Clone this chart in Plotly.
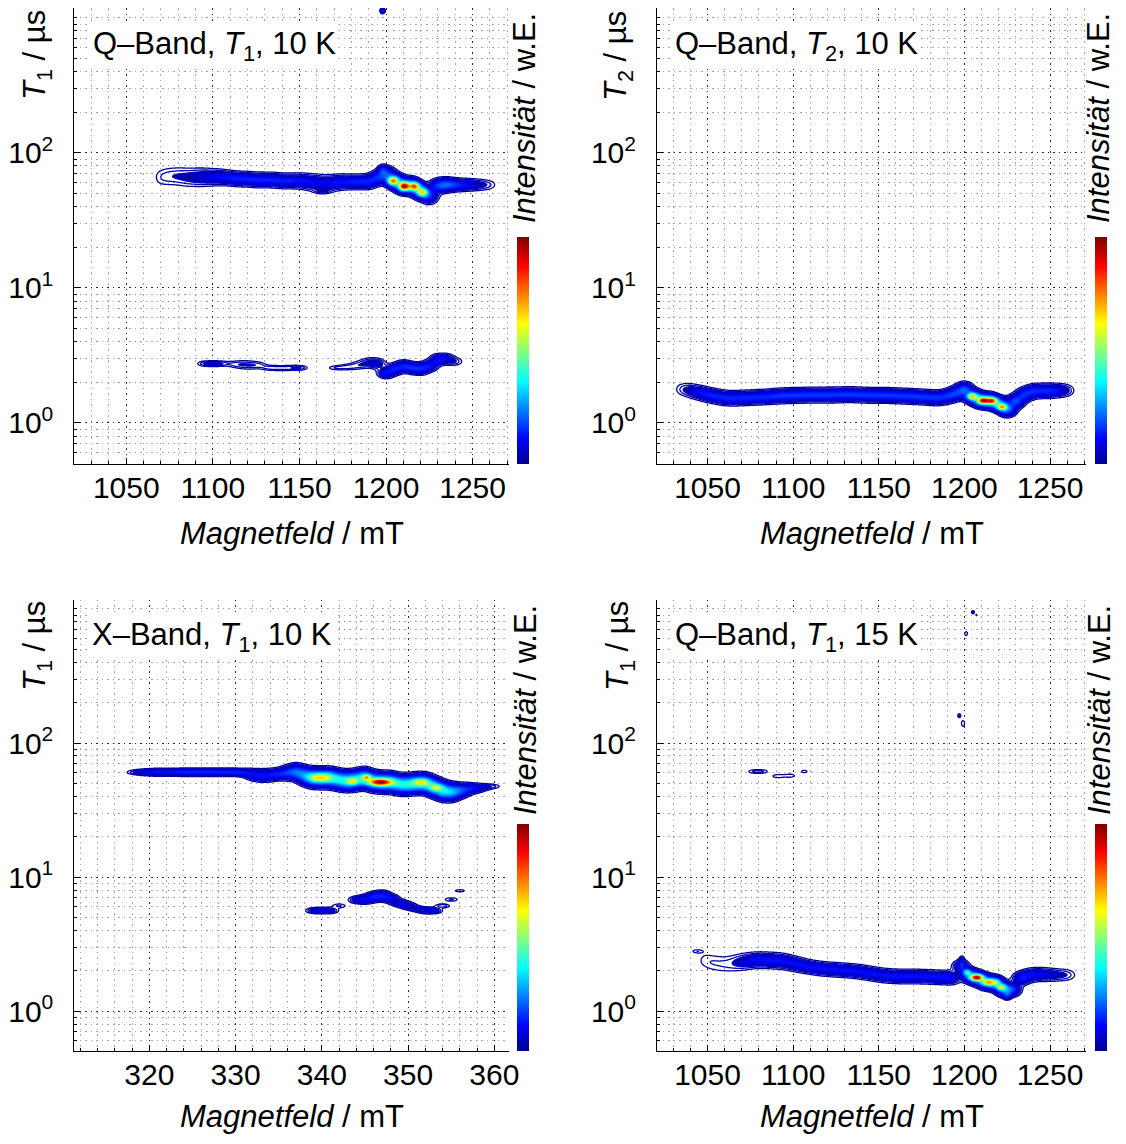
import numpy as np
import plotly.graph_objects as go

# ---------------- data ----------------
# Panel 1: Q-Band, T1, 10 K  -- ridge points (field mT, T us, intensity, width in decades)
p1_band_B = [1070, 1075, 1080, 1085, 1090, 1095, 1100, 1105, 1110, 1115, 1120, 1125, 1130, 1135, 1140,
             1145, 1150, 1155, 1160, 1165, 1170, 1175, 1180, 1185, 1190, 1195, 1200, 1205, 1210, 1215,
             1220, 1225, 1230, 1235, 1240, 1245, 1250, 1255, 1260,
             1095, 1100, 1105, 1112, 1117, 1122, 1127, 1132, 1137, 1142, 1147, 1151,
             1170, 1175, 1180, 1185, 1190, 1195, 1200, 1205, 1210, 1215, 1220, 1225, 1230, 1235, 1240]
p1_band_T = [66, 67, 67, 66, 66, 66, 66, 66, 65, 64, 64, 63, 63, 63, 62,
             62, 62, 61, 60, 59, 60, 61, 61, 61, 61, 65, 70, 62, 57, 57,
             52, 48, 57, 58, 58, 58, 58, 58, 58,
             2.75, 2.75, 2.75, 2.72, 2.70, 2.68, 2.68, 2.56, 2.55, 2.55, 2.56, 2.56,
             2.56, 2.58, 2.62, 2.70, 2.80, 2.75, 2.35, 2.50, 2.65, 2.55, 2.50, 2.65, 2.95, 2.98, 2.85]
p1_band_I = [0.03, 0.035, 0.04, 0.045, 0.055, 0.065, 0.075, 0.085, 0.10, 0.10, 0.10, 0.10, 0.10, 0.10, 0.10,
             0.10, 0.09, 0.085, 0.08, 0.08, 0.085, 0.09, 0.10, 0.10, 0.11, 0.13, 0.18, 0.25, 0.25, 0.25,
             0.22, 0.15, 0.15, 0.18, 0.12, 0.09, 0.07, 0.05, 0.03,
             0.045, 0.05, 0.045, 0.035, 0.04, 0.04, 0.035, 0.035, 0.035, 0.035, 0.035, 0.04,
             0.03, 0.035, 0.035, 0.04, 0.05, 0.08, 0.12, 0.12, 0.12, 0.12, 0.12, 0.12, 0.11, 0.08, 0.045]
p1_band_W = [0.045, 0.045, 0.045, 0.045, 0.042, 0.04, 0.036, 0.033, 0.03, 0.03, 0.03, 0.03, 0.03, 0.03, 0.03,
             0.03, 0.032, 0.034, 0.036, 0.036, 0.034, 0.032, 0.03, 0.03, 0.03, 0.03, 0.032, 0.033, 0.033, 0.033,
             0.033, 0.033, 0.03, 0.028, 0.026, 0.026, 0.026, 0.026, 0.026,
             0.014, 0.014, 0.014, 0.018, 0.022, 0.022, 0.018, 0.014, 0.014, 0.014, 0.014, 0.012,
             0.012, 0.014, 0.018, 0.022, 0.024, 0.024, 0.024, 0.024, 0.024, 0.024, 0.024, 0.024, 0.024, 0.024, 0.02]
p1_spot_B = [1204, 1210.5, 1216.5, 1221, 1198, 1198, 1163]
p1_spot_T = [62, 56.5, 56.5, 51, 75, 1130, 52]
p1_spot_I = [0.6, 0.75, 0.6, 0.5, 0.1, 0.15, 0.04]
p1_spot_W = [0.02, 0.02, 0.02, 0.02, 0.02, 0.012, 0.012]
p1_spot_S = [2.0, 2.0, 2.0, 2.0, 1.5, 0.8, 3.0]

# Panel 2: Q-Band, T2, 10 K
p2_band_B = [1035, 1040, 1045, 1050, 1055, 1060, 1065, 1070, 1075, 1080, 1085, 1090, 1095, 1100, 1105,
             1110, 1115, 1120, 1125, 1130, 1135, 1140, 1145, 1150, 1155, 1160, 1165, 1170, 1175, 1180,
             1185, 1190, 1195, 1200, 1205, 1210, 1215, 1220, 1225, 1230, 1235, 1240, 1245, 1250, 1255, 1260]
p2_band_T = [1.78, 1.74, 1.68, 1.62, 1.57, 1.53, 1.52, 1.53, 1.54, 1.55, 1.56, 1.58, 1.59, 1.60, 1.60,
             1.61, 1.61, 1.61, 1.61, 1.62, 1.62, 1.61, 1.60, 1.60, 1.60, 1.59, 1.58, 1.57, 1.56, 1.54,
             1.53, 1.57, 1.65, 1.78, 1.57, 1.47, 1.46, 1.38, 1.26, 1.45, 1.62, 1.72, 1.73, 1.73, 1.74, 1.74]
p2_band_I = [0.035, 0.06, 0.09, 0.11, 0.11, 0.11, 0.11, 0.11, 0.11, 0.11, 0.11, 0.12, 0.12, 0.12, 0.12,
             0.12, 0.12, 0.12, 0.12, 0.12, 0.12, 0.12, 0.12, 0.12, 0.12, 0.12, 0.12, 0.12, 0.12, 0.12,
             0.12, 0.13, 0.16, 0.20, 0.30, 0.35, 0.35, 0.30, 0.25, 0.20, 0.15, 0.12, 0.11, 0.11, 0.09, 0.05]
p2_band_W = [0.032, 0.032, 0.03] + [0.029] * 43
p2_spot_B = [1204.5, 1211, 1216, 1222]
p2_spot_T = [1.57, 1.46, 1.46, 1.31]
p2_spot_I = [0.45, 0.6, 0.55, 0.55]
p2_spot_W = [0.015, 0.015, 0.015, 0.015]
p2_spot_S = [1.8, 2.0, 2.0, 1.8]

# Panel 3: X-Band, T1, 10 K
p3_band_B = [318, 319, 320, 321, 322, 323, 324, 325, 326, 327, 328, 329, 330, 331, 332, 333, 334, 335,
             336, 337, 338, 339, 340, 341, 342, 343, 344, 345, 346, 347, 348, 349, 350, 351, 352, 353,
             354, 355, 356, 357, 358, 359, 360,
             339, 340, 341, 342, 344, 345, 346, 347, 348, 349, 350, 351, 352, 353, 354, 355, 356]
p3_band_T = [60.5, 60.5, 60.5, 60.5, 60.5, 60.5, 60.5, 60.5, 60.5, 60.5, 60.5, 60.5, 60.5, 60.0, 58.0,
             57.0, 57.5, 58.5, 60.0, 61.0, 57.0, 55.0, 55.0, 55.0, 53.0, 52.0, 53.0, 55.0, 51.5, 51.0,
             51.0, 49.0, 49.0, 50.0, 50.0, 47.0, 44.0, 43.0, 44.0, 45.5, 46.0, 47.0, 47.5,
             5.62, 5.62, 5.62, 6.1, 6.76, 6.8, 7.1, 7.3, 6.9, 6.4, 6.1, 5.8, 5.62, 5.62, 6.1, 6.8, 7.9]
p3_band_I = [0.03, 0.06, 0.08, 0.09, 0.09, 0.09, 0.10, 0.10, 0.10, 0.10, 0.10, 0.10, 0.10, 0.10, 0.09,
             0.09, 0.09, 0.10, 0.12, 0.17, 0.22, 0.27, 0.29, 0.29, 0.27, 0.29, 0.29, 0.30, 0.30, 0.30,
             0.30, 0.27, 0.28, 0.29, 0.29, 0.29, 0.27, 0.24, 0.16, 0.10, 0.08, 0.05, 0.03,
             0.06, 0.07, 0.07, 0.04, 0.07, 0.09, 0.11, 0.11, 0.10, 0.09, 0.08, 0.06, 0.08, 0.08, 0.05, 0.04, 0.03]
p3_band_W = [0.012, 0.014, 0.015, 0.016, 0.016, 0.016, 0.016, 0.016, 0.016, 0.016, 0.016, 0.016, 0.016, 0.017,
             0.025, 0.027, 0.027, 0.025, 0.03, 0.033, 0.036, 0.037, 0.037, 0.037, 0.037, 0.037, 0.037, 0.037,
             0.037, 0.037, 0.037, 0.037, 0.037, 0.037, 0.037, 0.037, 0.037, 0.035, 0.03, 0.025, 0.02, 0.016, 0.012,
             0.014, 0.014, 0.014, 0.012, 0.017, 0.02, 0.022, 0.022, 0.02, 0.017, 0.017, 0.014, 0.014, 0.014,
             0.011, 0.011, 0.009]
p3_spot_B = [346.8, 345.2, 343.5, 340.3, 351.5, 353.3, 339.3]
p3_spot_T = [51, 55.5, 51.5, 55, 51, 46.5, 55]
p3_spot_I = [0.6, 0.38, 0.28, 0.22, 0.28, 0.25, 0.2]
p3_spot_W = [0.016, 0.012, 0.015, 0.02, 0.016, 0.016, 0.02]
p3_spot_S = [0.9, 0.3, 0.4, 0.6, 0.6, 0.5, 0.5]

# Panel 4: Q-Band, T1, 15 K
p4_band_B = [1048, 1053, 1058, 1063, 1068, 1073, 1078, 1083, 1088, 1093, 1098, 1103, 1108, 1113, 1118,
             1123, 1128, 1133, 1138, 1143, 1148, 1153, 1158, 1163, 1168, 1173, 1178, 1183, 1188, 1193,
             1198, 1203, 1208, 1213, 1218, 1223, 1228, 1233, 1238, 1243, 1248, 1253, 1258, 1262]
p4_band_T = [2.39, 2.30, 2.25, 2.25, 2.30, 2.35, 2.40, 2.40, 2.38, 2.36, 2.30, 2.22, 2.15, 2.10, 2.06,
             2.04, 2.02, 2.00, 1.97, 1.93, 1.88, 1.84, 1.82, 1.81, 1.81, 1.81, 1.80, 1.79, 1.78, 1.77,
             2.15, 1.85, 1.75, 1.64, 1.62, 1.45, 1.45, 1.75, 1.85, 1.88, 1.87, 1.86, 1.86, 1.86]
p4_band_I = [0.03, 0.035, 0.035, 0.04, 0.06, 0.09, 0.11, 0.11, 0.11, 0.11, 0.11, 0.11, 0.11, 0.11, 0.11,
             0.11, 0.11, 0.11, 0.11, 0.11, 0.11, 0.11, 0.11, 0.11, 0.11, 0.11, 0.11, 0.11, 0.11, 0.12,
             0.15, 0.30, 0.35, 0.35, 0.35, 0.30, 0.20, 0.16, 0.12, 0.10, 0.09, 0.07, 0.05, 0.03]
p4_band_W = [0.045, 0.045, 0.045, 0.043, 0.04, 0.036, 0.033, 0.033, 0.033, 0.033, 0.032, 0.031] + [0.029] * 32
p4_spot_B = [1201.5, 1206, 1208.5, 1213.5, 1218, 1221.5, 1198.5, 1225,
             1044, 1077, 1082, 1091, 1098, 1106.5, 1197, 1199.2, 1201, 1205, 1207]
p4_spot_T = [1.95, 1.78, 1.78, 1.64, 1.64, 1.51, 2.3, 1.32,
             2.79, 61.3, 61.3, 56.6, 57, 61.3, 160, 140, 655, 946, 900]
p4_spot_I = [0.35, 0.6, 0.55, 0.5, 0.35, 0.5, 0.1, 0.15,
             0.045, 0.045, 0.045, 0.045, 0.045, 0.04, 0.06, 0.05, 0.045, 0.06, 0.035]
p4_spot_W = [0.015, 0.015, 0.015, 0.015, 0.015, 0.015, 0.03, 0.02,
             0.01, 0.011, 0.011, 0.011, 0.011, 0.01, 0.012, 0.02, 0.014, 0.01, 0.008]
p4_spot_S = [1.5, 2.0, 2.0, 2.0, 2.0, 1.8, 1.0, 1.5,
             2.5, 2.8, 2.8, 2.8, 2.8, 1.8, 0.7, 0.8, 0.8, 0.7, 0.5]

titles = ["Q–Band, <i>T</i><sub>1</sub>, 10 K", "Q–Band, <i>T</i><sub>2</sub>, 10 K",
          "X–Band, <i>T</i><sub>1</sub>, 10 K", "Q–Band, <i>T</i><sub>1</sub>, 15 K"]
ytitles = ["<i>T</i><sub>1</sub> / µs", "<i>T</i><sub>2</sub> / µs",
           "<i>T</i><sub>1</sub> / µs", "<i>T</i><sub>1</sub> / µs"]
xtitle = "<i>Magnetfeld</i> / mT"
ctitle = "<i>Intensität</i> / w.E."
ytick_vals = [1, 10, 100]
ytick_text = ["10<sup>0</sup>", "10<sup>1</sup>", "10<sup>2</sup>"]
q_xticks = [1050, 1100, 1150, 1200, 1250]
x_xticks = [320, 330, 340, 350, 360]

# ---------------- figure ----------------
OFF = 8                      # page body margin of the browser
W, H = 1126 - 2 * OFF, 1144 - 2 * OFF


def fx(px):
    return min(max((px - OFF) / W, 0.0), 1.0)


def fy(py):
    return min(max(1 - (py - OFF) / H, 0.0), 1.0)


jet = [[0.0, "rgb(0,0,143)"], [0.111, "rgb(0,0,255)"], [0.365, "rgb(0,255,255)"],
       [0.619, "rgb(255,255,0)"], [0.873, "rgb(255,0,0)"], [1.0, "rgb(128,0,0)"]]
FILL_START, FILL_SIZE = 0.05, 0.02
_lo, _hi = FILL_START - FILL_SIZE / 2, 1.0 + FILL_SIZE / 2


def _f(v):
    return (v - _lo) / (_hi - _lo)


jet_fill = [[0.0, "rgba(255,255,255,0)"], [0.004, "rgba(255,255,255,0)"], [0.005, "rgb(0,0,143)"]] + \
           [[max(_f(s), 0.006), c] for s, c in jet[1:-1]] + [[1.0, "rgb(128,0,0)"]]
edge = [[0, "rgb(0,0,150)"], [1, "rgb(0,0,200)"]]

FONT = "Liberation Sans, Arial, sans-serif"
FS = 30
FT = 31

LOGY = np.arange(-0.32, 3.10, 0.005)


def build(x0, x1, dx, sband, band, spots):
    xs = np.arange(x0, x1 + dx / 2, dx)
    z = np.zeros((len(LOGY), len(xs)))
    bB, bT, bI, bW = band
    for B, T, I, Wd in zip(bB, bT, bI, bW):
        z += I * np.outer(np.exp(-0.5 * ((LOGY - np.log10(T)) / Wd) ** 2),
                          np.exp(-0.5 * ((xs - B) / sband) ** 2))
    sB, sT, sI, sW, sS = spots
    for B, T, I, Wd, S in zip(sB, sT, sI, sW, sS):
        z += I * np.outer(np.exp(-0.5 * ((LOGY - np.log10(T)) / Wd) ** 2),
                          np.exp(-0.5 * ((xs - B) / S) ** 2))
    z /= z.max()
    return xs, 10 ** LOGY, z.astype(np.float32)


panels = [
    dict(xr=[1020, 1271], dx=0.5, s=3.0, band=(p1_band_B, p1_band_T, p1_band_I, p1_band_W),
         spots=(p1_spot_B, p1_spot_T, p1_spot_I, p1_spot_W, p1_spot_S), ticks=q_xticks, minor=10),
    dict(xr=[1020.5, 1271], dx=0.5, s=3.0, band=(p2_band_B, p2_band_T, p2_band_I, p2_band_W),
         spots=(p2_spot_B, p2_spot_T, p2_spot_I, p2_spot_W, p2_spot_S), ticks=q_xticks, minor=10),
    dict(xr=[311.3, 361.7], dx=0.1, s=0.6, band=(p3_band_B, p3_band_T, p3_band_I, p3_band_W),
         spots=(p3_spot_B, p3_spot_T, p3_spot_I, p3_spot_W, p3_spot_S), ticks=x_xticks, minor=2),
    dict(xr=[1020.5, 1271], dx=0.5, s=3.0, band=(p4_band_B, p4_band_T, p4_band_I, p4_band_W),
         spots=(p4_spot_B, p4_spot_T, p4_spot_I, p4_spot_W, p4_spot_S), ticks=q_xticks, minor=10),
]

# pixel boxes in screenshot coords: (left, right, top, bottom)
boxes = [(74.3, 509, 8, 463.6), (657, 1086, 8, 463.6),
         (74.3, 509, 599.6, 1051.4), (657, 1086, 599.6, 1051.4)]
yranges = [[np.log10(0.5), 3.073], [np.log10(0.5), 3.073], [np.log10(0.5), 3.07], [np.log10(0.5), 3.07]]
cbar_x = [517, 1095, 517, 1095]
ytitle_pos = [(37, 55), (618, 56), (37, 646), (620, 646)]
ctitle_pos = [(525, 118), (1099, 118), (525, 710), (1099, 710)]
title_pos = [(90, 46), (672, 46), (89, 637), (672, 637)]
xtitle_dy = [70, 70, 65, 65]

minor_y = [0.5, 0.6, 0.7, 0.8, 0.9] + [k for k in range(2, 10)] + [10 * k for k in range(2, 10)] + \
          [100 * k for k in range(2, 10)] + [1000]

fig = go.Figure()
layout = dict(width=W, height=H, margin=dict(l=0, r=0, t=0, b=0, autoexpand=False), paper_bgcolor="white",
              plot_bgcolor="white", showlegend=False, font=dict(family=FONT, size=FS, color="black"))
annotations = []
GRID_MAJ = "rgb(40,40,40)"
GRID_MIN = "rgb(165,165,165)"
DASH = "1.5px,4px"

for i, p in enumerate(panels):
    n = "" if i == 0 else str(i + 1)
    xs, ys, z = build(p["xr"][0], p["xr"][1], p["dx"], p["s"], p["band"], p["spots"])
    fig.add_trace(go.Contour(x=xs, y=ys, z=z, xaxis="x" + n, yaxis="y" + n,
                             contours=dict(coloring="fill", start=FILL_START, end=1.0, size=FILL_SIZE),
                             line=dict(width=0), colorscale=jet_fill,
                             showscale=False, hoverinfo="skip"))
    fig.add_trace(go.Contour(x=xs, y=ys, z=z, xaxis="x" + n, yaxis="y" + n,
                             contours=dict(coloring="lines", start=0.02, end=0.05, size=0.015),
                             line=dict(width=1.3), colorscale=edge,
                             showscale=False, hoverinfo="skip"))
    l, r, t, b = boxes[i]
    fig.add_trace(go.Scatter(x=[xs[len(xs) // 2]], y=[1.0], xaxis="x" + n, yaxis="y" + n, mode="markers",
                             hoverinfo="skip",
                             marker=dict(size=1, opacity=0, color=[0.5], cmin=0, cmax=1, colorscale=jet,
                                         showscale=True,
                                         colorbar=dict(x=fx(cbar_x[i]), xanchor="left", y=fy(b),
                                                       yanchor="bottom", len=227 / H, lenmode="fraction",
                                                       thickness=12, outlinewidth=0, showticklabels=False,
                                                       ticks="", xpad=0, ypad=0))))
    layout["xaxis" + n] = dict(domain=[fx(l), fx(r)], anchor="y" + n, range=p["xr"], automargin=False,
                               tickvals=p["ticks"], ticks="inside", ticklen=6, tickcolor="black",
                               showline=True, linecolor="black", linewidth=1, mirror=False,
                               showgrid=True, gridcolor=GRID_MAJ, griddash=DASH, gridwidth=1,
                               zeroline=False, tickfont=dict(size=FS), ticklabelstandoff=-3,
                               minor=dict(dtick=p["minor"], tick0=0, ticks="inside", ticklen=3,
                                          tickcolor="black", showgrid=True, gridcolor=GRID_MIN,
                                          griddash=DASH, gridwidth=1))
    layout["yaxis" + n] = dict(domain=[fy(b), fy(t)], anchor="x" + n, type="log", automargin=False,
                               range=yranges[i], tickvals=ytick_vals, ticktext=ytick_text,
                               ticks="inside", ticklen=6, tickcolor="black", showline=True,
                               linecolor="black", linewidth=1, mirror=False, showgrid=True,
                               gridcolor=GRID_MAJ, griddash=DASH, gridwidth=1, zeroline=False,
                               tickfont=dict(size=FS), ticklabelstandoff=14,
                               minor=dict(tickvals=minor_y, ticks="inside", ticklen=3, tickcolor="black",
                                          showgrid=True, gridcolor=GRID_MIN, griddash=DASH, gridwidth=1))
    # panel title
    tx, ty = title_pos[i]
    annotations.append(dict(text=titles[i], x=fx(tx), y=fy(ty), xref="paper", yref="paper",
                            xanchor="left", yanchor="middle", showarrow=False, bgcolor="white",
                            font=dict(size=FT), borderpad=2))
    # y title
    yx, yy = ytitle_pos[i]
    annotations.append(dict(text=ytitles[i], x=fx(yx), y=fy(yy), xref="paper", yref="paper",
                            xanchor="center", yanchor="middle", textangle=-90, showarrow=False,
                            font=dict(size=FT)))
    # colorbar title
    cx, cy = ctitle_pos[i]
    annotations.append(dict(text=ctitle, x=fx(cx), y=fy(cy), xref="paper", yref="paper",
                            xanchor="center", yanchor="middle", textangle=-90, showarrow=False,
                            font=dict(size=FT)))
    # x title
    annotations.append(dict(text=xtitle, x=fx((l + r) / 2), y=fy(b + xtitle_dy[i]), xref="paper",
                            yref="paper", xanchor="center", yanchor="middle", showarrow=False,
                            font=dict(size=FT)))

layout["annotations"] = annotations
fig.update_layout(**layout)
fig.write_html("out.html")
